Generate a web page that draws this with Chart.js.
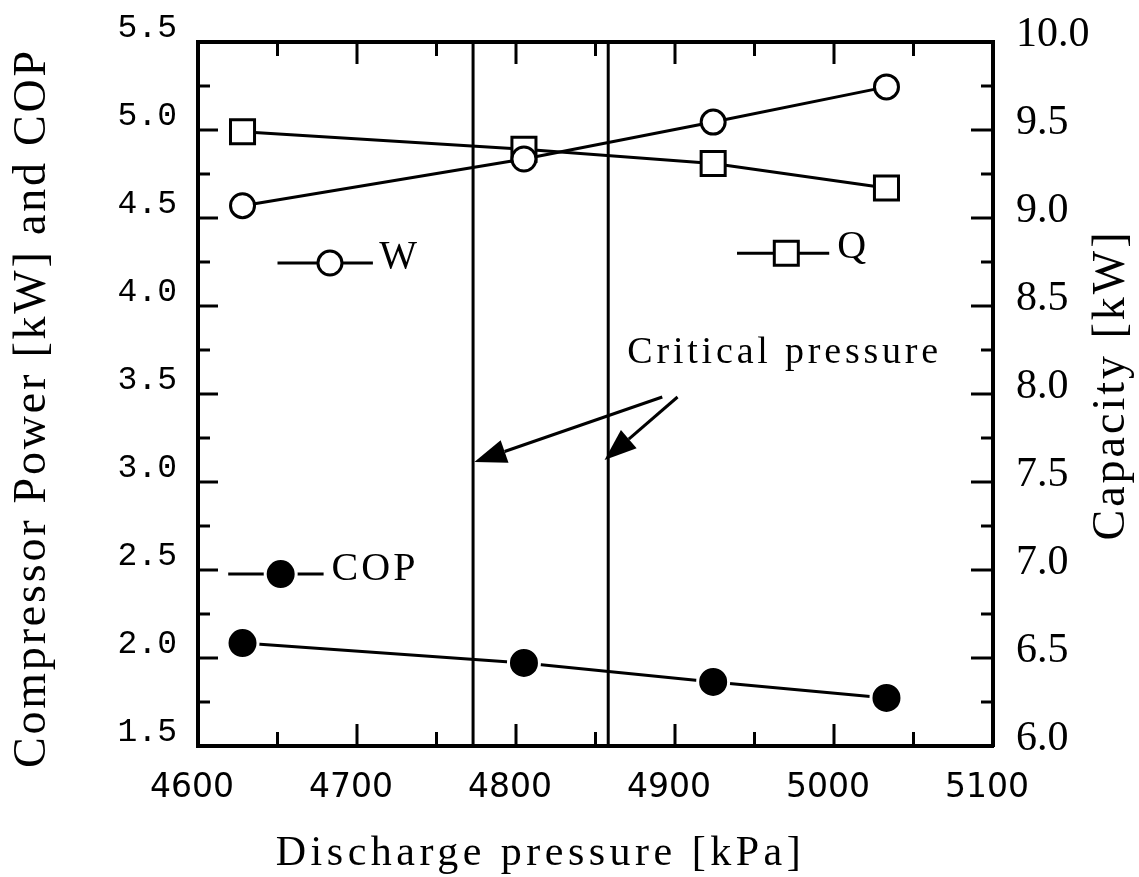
<!DOCTYPE html>
<html><head><meta charset="utf-8">
<script src="https://cdn.jsdelivr.net/npm/chart.js@4/dist/chart.umd.min.js"></script>
<style>html,body{margin:0;padding:0;background:#fff}canvas{display:block}</style>
</head><body>
<canvas id="c" width="1139" height="877"></canvas>
<script>
// ---- data ----
const pressure = [4628, 4805, 4924, 5033];          // discharge pressure [kPa]
const powerW = [4.57, 4.835, 5.045, 5.245];          // compressor power [kW] (left axis)
const capacityQ = [9.49, 9.39, 9.31, 9.17];          // capacity [kW] (right axis)
const copValues = [2.085, 1.972, 1.864, 1.773];      // COP (left axis)
const criticalPressure = [4773, 4858];               // vertical critical-pressure lines [kPa]
const xRange = [4600, 5100];
const leftRange = [1.5, 5.5];
const rightRange = [6.0, 10.0];

// ---- annotation placement (data units) ----
const legendW = {x1: 4650, x2: 4710, y: 4.244, mx: 4683, tx: 4714, ty: 4.216, text: 'W', axis: 'y', kind: 'circle'};
const legendQ = {x1: 4939, x2: 4997, y: 8.80, mx: 4970, tx: 5002, ty: 8.773, text: 'Q', axis: 'y2', kind: 'square'};
const legendCOP = {x1: 4619, x2: 4679, y: 2.477, mx: 4652, tx: 4684, ty: 2.443, text: 'COP', axis: 'y', kind: 'dot'};
const critLabel = {x: 4870, y: 3.676, text: 'Critical pressure'};
const critArrows = [{from: [4892, 3.483], to: [4773.8, 3.114]}, {from: [4901.6, 3.483], to: [4855.7, 3.125]}];

const pts = ys => pressure.map((p, i) => ({x: p, y: ys[i]}));
const FONT_SERIF = 'Liberation Serif';

function drawMarker(ctx, kind, x, y) {
  ctx.save();
  ctx.lineWidth = 3;
  ctx.beginPath();
  if (kind === 'circle') {
    ctx.arc(x, y, 12, 0, Math.PI * 2);
    ctx.fillStyle = '#fff'; ctx.strokeStyle = '#000';
  } else if (kind === 'square') {
    const h = 12;
    ctx.rect(x - h, y - h, 2 * h, 2 * h);
    ctx.fillStyle = '#fff'; ctx.strokeStyle = '#000';
  } else {
    ctx.arc(x, y, 15.5, 0, Math.PI * 2);
    ctx.fillStyle = '#000'; ctx.strokeStyle = '#fff';
  }
  ctx.fill(); ctx.stroke();
  ctx.restore();
}

const annotations = {
  id: 'annotations',
  afterDatasetsDraw(chart) {
    const ctx = chart.ctx, sx = chart.scales.x;
    ctx.save();
    ctx.strokeStyle = '#000'; ctx.fillStyle = '#000'; ctx.lineWidth = 3;
    for (const lg of [legendW, legendQ, legendCOP]) {
      const sy = chart.scales[lg.axis];
      const y = sy.getPixelForValue(lg.y);
      ctx.beginPath();
      ctx.moveTo(sx.getPixelForValue(lg.x1), y);
      ctx.lineTo(sx.getPixelForValue(lg.x2), y);
      ctx.stroke();
      drawMarker(ctx, lg.kind, sx.getPixelForValue(lg.mx), y);
      ctx.save();
      ctx.font = '40px "' + FONT_SERIF + '"';
      ctx.letterSpacing = '3px';
      ctx.textAlign = 'left'; ctx.textBaseline = 'alphabetic';
      ctx.fillStyle = '#000';
      ctx.fillText(lg.text, sx.getPixelForValue(lg.tx), sy.getPixelForValue(lg.ty));
      ctx.restore();
    }
    const sy = chart.scales.y;
    ctx.save();
    ctx.font = '38px "' + FONT_SERIF + '"';
    ctx.letterSpacing = '3.8px';
    ctx.textAlign = 'left'; ctx.textBaseline = 'alphabetic';
    ctx.fillText(critLabel.text, sx.getPixelForValue(critLabel.x), sy.getPixelForValue(critLabel.y));
    ctx.restore();
    for (const a of critArrows) {
      const x0 = sx.getPixelForValue(a.from[0]), y0 = sy.getPixelForValue(a.from[1]);
      const x1 = sx.getPixelForValue(a.to[0]), y1 = sy.getPixelForValue(a.to[1]);
      const ang = Math.atan2(y1 - y0, x1 - x0);
      const L = 32, W = 12;
      const bx = x1 - L * Math.cos(ang), by = y1 - L * Math.sin(ang);
      ctx.beginPath(); ctx.moveTo(x0, y0); ctx.lineTo(bx, by); ctx.stroke();
      ctx.beginPath();
      ctx.moveTo(x1, y1);
      ctx.lineTo(bx + W * Math.sin(ang), by - W * Math.cos(ang));
      ctx.lineTo(bx - W * Math.sin(ang), by + W * Math.cos(ang));
      ctx.closePath(); ctx.fill();
    }
    ctx.restore();
  }
};

const innerTicks = {
  id: 'innerTicks',
  afterDraw(chart) {
    const ctx = chart.ctx, a = chart.chartArea, s = chart.scales;
    const major = (v, m) => Math.abs(v / m - Math.round(v / m)) < 1e-6;
    const line = (x0, y0, x1, y1) => { ctx.beginPath(); ctx.moveTo(x0, y0); ctx.lineTo(x1, y1); ctx.stroke(); };
    ctx.save(); ctx.strokeStyle = '#000'; ctx.lineWidth = 3;
    s.x.ticks.forEach(t => {
      if (t.value <= xRange[0] || t.value >= xRange[1]) return;
      const px = s.x.getPixelForValue(t.value), L = major(t.value, 100) ? 22 : 14;
      line(px, a.bottom, px, a.bottom - L);
      line(px, a.top, px, a.top + L);
    });
    s.y.ticks.forEach(t => {
      if (t.value <= leftRange[0] || t.value >= leftRange[1]) return;
      const py = s.y.getPixelForValue(t.value), L = major(t.value, 0.5) ? 20 : 12;
      line(a.left, py, a.left + L, py);
    });
    s.y2.ticks.forEach(t => {
      if (t.value <= rightRange[0] || t.value >= rightRange[1]) return;
      const py = s.y2.getPixelForValue(t.value), L = major(t.value, 0.5) ? 22 : 12;
      line(a.right, py, a.right - L, py);
    });
    ctx.restore();
  }
};

// axis-title tweaks: letter spacing, shift, and bottom-to-top reading for the right title
const titleTweaks = {
  x: {dx: -55, dy: 0, ls: '4.5px'},
  y: {dx: 0, dy: 14, ls: '2.8px'},
  y2: {dx: 0, dy: -9, ls: '3px', flipOffset: 27}
};
const titleTweak = {
  id: 'titleTweak',
  beforeDraw(chart) {
    for (const id in titleTweaks) {
      const sc = chart.scales[id];
      if (!sc || sc._tweaked) continue;
      const orig = sc.drawTitle;
      sc.drawTitle = function () {
        const t = titleTweaks[id], ctx = this.ctx;
        ctx.save();
        ctx.letterSpacing = t.ls;
        if (t.flipOffset) {
          const cx = this.right - t.flipOffset, cy = (this.top + this.bottom) / 2;
          ctx.translate(cx + t.dx, cy + t.dy);
          ctx.rotate(Math.PI);
          ctx.translate(-cx, -cy);
        } else {
          ctx.translate(t.dx, t.dy);
        }
        orig.call(this);
        ctx.restore();
      };
      sc._tweaked = true;
    }
  }
};

const halfLabel = v => (Math.abs(v * 2 - Math.round(v * 2)) < 1e-6 ? v.toFixed(1) : '');

new Chart(document.getElementById('c'), {
  type: 'scatter',
  data: {
    datasets: [
      {label: 'W', data: pts(powerW), yAxisID: 'y', showLine: true, borderColor: '#000', borderWidth: 3,
        pointStyle: 'circle', pointRadius: 12, pointBorderWidth: 3, pointBackgroundColor: '#fff', pointBorderColor: '#000', clip: false},
      {label: 'Q', data: pts(capacityQ), yAxisID: 'y2', showLine: true, borderColor: '#000', borderWidth: 3,
        pointStyle: 'rect', pointRadius: 17, pointBorderWidth: 3, pointBackgroundColor: '#fff', pointBorderColor: '#000', clip: false},
      {label: 'COP', data: pts(copValues), yAxisID: 'y', showLine: true, borderColor: '#000', borderWidth: 3,
        pointStyle: 'circle', pointRadius: 15.5, pointBorderWidth: 3, pointBackgroundColor: '#000', pointBorderColor: '#fff', clip: false},
      ...criticalPressure.map(c => ({label: 'Critical pressure ' + c, data: [{x: c, y: leftRange[0]}, {x: c, y: leftRange[1]}],
        yAxisID: 'y', showLine: true, borderColor: '#000', borderWidth: 3, pointRadius: 0}))
    ]
  },
  options: {
    responsive: false,
    animation: false,
    events: [],
    layout: {padding: {top: 42, left: 0, right: 0, bottom: 0}},
    plugins: {legend: {display: false}, tooltip: {enabled: false}},
    scales: {
      x: {
        type: 'linear', position: 'bottom', min: xRange[0], max: xRange[1],
        afterFit: sc => { sc.height = 131; },
        grid: {display: false},
        border: {display: true, color: '#000', width: 4},
        ticks: {stepSize: 50, autoSkip: false, maxRotation: 0, minRotation: 0, padding: 15, labelOffset: -6,
          color: '#000', font: {family: 'DejaVu Sans', size: 33},
          callback: v => (Math.abs(v % 100) < 1e-6 ? String(v) : '')},
        title: {display: true, text: 'Discharge pressure [kPa]', color: '#000',
          font: {family: FONT_SERIF, size: 42, lineHeight: 1}, padding: {top: 0, bottom: 2}}
      },
      xt: {
        type: 'linear', axis: 'x', position: 'top', min: xRange[0], max: xRange[1],
        afterFit: sc => { sc.height = 0; },
        grid: {display: false},
        border: {display: true, color: '#000', width: 4},
        ticks: {display: false}
      },
      y: {
        type: 'linear', position: 'left', min: leftRange[0], max: leftRange[1],
        afterFit: sc => { sc.width = 198; },
        grid: {display: false},
        border: {display: true, color: '#000', width: 4},
        ticks: {stepSize: 0.25, autoSkip: false, padding: 13, labelOffset: -14, color: '#000',
          font: {family: 'Liberation Mono', size: 33}, callback: halfLabel},
        title: {display: true, text: 'Compressor Power [kW] and COP', color: '#000',
          font: {family: FONT_SERIF, size: 46, lineHeight: 1}, padding: {top: 10, bottom: 0}}
      },
      y2: {
        type: 'linear', position: 'right', min: rightRange[0], max: rightRange[1],
        afterFit: sc => { sc.width = 146; },
        grid: {display: false},
        border: {display: true, color: '#000', width: 4},
        ticks: {stepSize: 0.25, autoSkip: false, padding: 15, labelOffset: -7, color: '#000',
          font: {family: FONT_SERIF, size: 42}, callback: halfLabel},
        title: {display: true, text: 'Capacity [kW]', color: '#000',
          font: {family: FONT_SERIF, size: 46, lineHeight: 1}, padding: {top: 4, bottom: 0}}
      }
    }
  },
  plugins: [titleTweak, annotations, innerTicks]
});
</script>
</body></html>
